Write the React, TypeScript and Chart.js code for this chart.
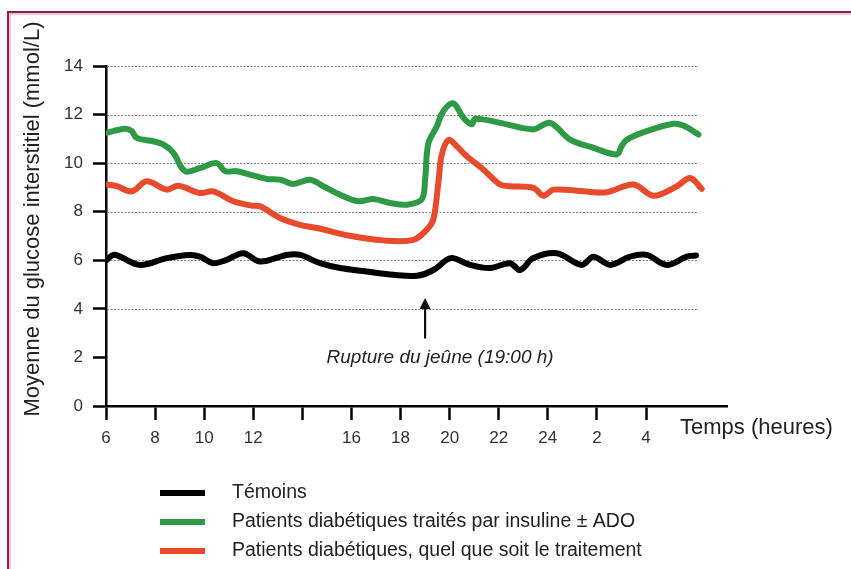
import React, { useEffect, useRef } from 'react';
import { Chart, registerables } from 'chart.js';

Chart.register(...registerables);

// ---- Data (hours since 0h of day 1; 24+ = next day) ----
const temoinsHours = [6.03, 6.3, 6.57, 7.39, 8.47, 9.42, 9.83, 10.37, 10.92, 11.59, 12.28, 13.36, 13.91, 14.72, 15.54, 16.62, 17.71, 18.66, 19.34, 19.88, 20.15, 20.83, 21.65, 22.46, 22.87, 23.41, 24.37, 25.38, 25.86, 26.54, 27.35, 28.03, 28.85, 29.66, 30.04];
const temoinsValues = [6.02, 6.22, 6.15, 5.81, 6.09, 6.22, 6.15, 5.88, 6.02, 6.29, 5.95, 6.22, 6.22, 5.88, 5.68, 5.54, 5.4, 5.36, 5.6, 6.02, 6.09, 5.81, 5.68, 5.88, 5.6, 6.09, 6.29, 5.81, 6.15, 5.81, 6.15, 6.22, 5.81, 6.15, 6.2];

const insulineHours = [6.03, 6.77, 7.05, 7.25, 7.93, 8.33, 8.74, 9.22, 9.83, 10.51, 10.85, 11.33, 11.87, 12.55, 13.09, 13.63, 14.31, 14.85, 15.54, 16.28, 16.89, 17.57, 18.25, 18.86, 19.0, 19.13, 19.48, 19.74, 20.15, 20.56, 20.9, 21.04, 22.06, 23.41, 24.09, 24.91, 25.86, 26.81, 27.01, 27.22, 28.03, 29.12, 29.52, 30.14];
const insulineValues = [11.25, 11.42, 11.32, 11.04, 10.9, 10.77, 10.43, 9.67, 9.8, 10.0, 9.67, 9.67, 9.53, 9.35, 9.32, 9.14, 9.32, 9.05, 8.7, 8.43, 8.52, 8.36, 8.29, 8.5, 9.32, 10.8, 11.52, 12.14, 12.46, 11.87, 11.6, 11.83, 11.66, 11.39, 11.66, 10.97, 10.63, 10.36, 10.7, 10.97, 11.32, 11.62, 11.55, 11.18];

const tousHours = [6.03, 6.44, 7.05, 7.66, 8.47, 8.95, 9.83, 10.37, 11.19, 11.94, 12.28, 13.09, 13.91, 14.59, 15.94, 17.3, 18.52, 19.07, 19.34, 19.54, 19.68, 19.95, 20.29, 20.7, 21.37, 22.06, 22.46, 23.41, 23.82, 24.23, 25.45, 26.4, 27.49, 28.3, 29.26, 29.8, 30.27];
const tousValues = [9.12, 9.05, 8.84, 9.25, 8.91, 9.07, 8.77, 8.84, 8.43, 8.25, 8.22, 7.74, 7.46, 7.33, 7.01, 6.82, 6.84, 7.26, 7.7, 9.2, 10.35, 10.95, 10.7, 10.28, 9.74, 9.12, 9.05, 8.98, 8.66, 8.91, 8.84, 8.8, 9.12, 8.66, 9.05, 9.39, 8.94];

const xTickValues = [6, 8, 10, 12, 14, 16, 18, 20, 22, 24, 26, 28];
const xTickLabels = ['6', '8', '10', '12', '', '16', '18', '20', '22', '24', '2', '4'];
const yTickValues = [0, 2, 4, 6, 8, 10, 12, 14];
const gridValues = [4, 6, 8, 10, 12, 14];

const seriesLabels = [
  'Témoins',
  'Patients diabétiques traités par insuline ± ADO',
  'Patients diabétiques, quel que soit le traitement',
];
const seriesColors = ['#000000', '#2f9a45', '#e84a2c'];

const X_MIN = 6;
const X_MAX = 31.3;
const GRID_END = 30.1;
const FAST_BREAK = 19.0;

const FONT = '"Liberation Sans", Arial, Helvetica, sans-serif';

function toPoints(xs: number[], ys: number[]) {
  return xs.map((x, i) => ({ x, y: ys[i] }));
}

const overlayPlugin = {
  id: 'overlay',
  beforeDatasetsDraw(chart: any) {
    const { ctx, chartArea, scales } = chart;
    const xs = scales.x;
    const ys = scales.y;
    ctx.save();
    ctx.strokeStyle = '#808080';
    ctx.lineWidth = 1.2;
    ctx.setLineDash([2, 1.5]);
    const xEnd = xs.getPixelForValue(GRID_END);
    gridValues.forEach((v) => {
      const y = Math.round(ys.getPixelForValue(v)) + 0.5;
      ctx.beginPath();
      ctx.moveTo(chartArea.left + 1, y);
      ctx.lineTo(xEnd, y);
      ctx.stroke();
    });
    ctx.restore();
  },
  afterDraw(chart: any) {
    const { ctx, scales, chartArea } = chart;
    const xs = scales.x;
    const ys = scales.y;
    ctx.save();
    // Y title
    ctx.fillStyle = '#222';
    ctx.font = `22px ${FONT}`;
    ctx.textAlign = 'center';
    ctx.textBaseline = 'middle';
    ctx.translate(33, (ys.getPixelForValue(14) + ys.getPixelForValue(0)) / 2 - 17);
    ctx.rotate(-Math.PI / 2);
    ctx.fillText('Moyenne du glucose interstitiel (mmol/L)', 0, 0);
    ctx.restore();

    ctx.save();
    // X title
    ctx.fillStyle = '#222';
    ctx.font = `22px ${FONT}`;
    ctx.textAlign = 'left';
    ctx.textBaseline = 'alphabetic';
    ctx.fillText('Temps (heures)', chartArea.right - 47, chartArea.bottom + 28);

    // arrow
    const ax = xs.getPixelForValue(FAST_BREAK);
    const yTip = ys.getPixelForValue(4.45);
    const yBot = ys.getPixelForValue(2.78);
    ctx.strokeStyle = '#111';
    ctx.fillStyle = '#111';
    ctx.lineWidth = 2.2;
    ctx.beginPath();
    ctx.moveTo(ax, yBot);
    ctx.lineTo(ax, yTip + 8);
    ctx.stroke();
    ctx.beginPath();
    ctx.moveTo(ax, yTip);
    ctx.lineTo(ax - 5.5, yTip + 11);
    ctx.lineTo(ax + 5.5, yTip + 11);
    ctx.closePath();
    ctx.fill();

    // annotation
    ctx.font = `italic 19px ${FONT}`;
    ctx.textAlign = 'center';
    ctx.textBaseline = 'middle';
    ctx.fillStyle = '#222';
    ctx.fillText('Rupture du jeûne (19:00 h)', ax + 15, ys.getPixelForValue(1.97));

    // legend
    const legendY = [493, 522, 551];
    ctx.font = `19.5px ${FONT}`;
    ctx.textAlign = 'left';
    seriesLabels.forEach((lab, i) => {
      ctx.strokeStyle = seriesColors[i];
      ctx.lineWidth = 6;
      ctx.setLineDash([]);
      ctx.beginPath();
      ctx.moveTo(160, legendY[i]);
      ctx.lineTo(205, legendY[i]);
      ctx.stroke();
      ctx.fillStyle = '#222';
      ctx.fillText(lab, 232, legendY[i]);
    });
    ctx.restore();
  },
};

export default function App() {
  const ref = useRef<HTMLCanvasElement | null>(null);

  useEffect(() => {
    if (!ref.current) return;
    const datasets = [
      { xs: temoinsHours, ys: temoinsValues },
      { xs: insulineHours, ys: insulineValues },
      { xs: tousHours, ys: tousValues },
    ].map((s, i) => ({
      label: seriesLabels[i],
      data: toPoints(s.xs, s.ys),
      borderColor: seriesColors[i],
      backgroundColor: seriesColors[i],
      borderWidth: 6,
      pointRadius: 0,
      tension: 0.35,
      fill: false,
      borderCapStyle: 'round' as const,
      borderJoinStyle: 'round' as const,
    }));

    const chart = new Chart(ref.current, {
      type: 'line',
      data: { datasets },
      options: {
        animation: false,
        responsive: false,
        devicePixelRatio: 1,
        layout: { padding: { left: 0, top: 66, right: 124, bottom: 113 } },
        plugins: { legend: { display: false }, tooltip: { enabled: false } },
        scales: {
          x: {
            type: 'linear',
            min: X_MIN,
            max: X_MAX,
            afterFit: (s: any) => { s.height = 50; },
            afterBuildTicks: (s: any) => { s.ticks = xTickValues.map((v) => ({ value: v })); },
            ticks: {
              autoSkip: false,
              maxRotation: 0,
              padding: 8,
              color: '#333',
              font: { family: FONT, size: 17 },
              callback: (v: any) => {
                const idx = xTickValues.indexOf(Number(v));
                return idx >= 0 ? xTickLabels[idx] : '';
              },
            },
            grid: { drawOnChartArea: false, drawTicks: true, tickLength: 14, tickColor: '#000', tickWidth: 2.5 },
            border: { display: true, color: '#000', width: 2.5 },
          },
          y: {
            type: 'linear',
            min: 0,
            max: 14,
            afterFit: (s: any) => { s.width = 106; },
            afterBuildTicks: (s: any) => { s.ticks = yTickValues.map((v) => ({ value: v })); },
            ticks: {
              padding: 10,
              color: '#333',
              font: { family: FONT, size: 17 },
            },
            grid: { drawOnChartArea: false, drawTicks: true, tickLength: 13, tickColor: '#000', tickWidth: 2.5 },
            border: { display: true, color: '#000', width: 2.5 },
          },
        },
      },
      plugins: [overlayPlugin],
    } as any);
    return () => chart.destroy();
  }, []);

  return (
    <div style={{ position: 'fixed', left: 0, top: 0, width: 851, height: 569, background: '#fff', overflow: 'hidden' }}>
      <div style={{ position: 'absolute', left: 7, top: 11, right: -10, bottom: -10, borderTop: '2px solid #8e1d50', borderLeft: '2px solid #8e1d50' }} />
      <div style={{ position: 'absolute', left: 9, top: 13, right: -10, bottom: -10, borderTop: '2px solid #f6c3d6', borderLeft: '2px solid #f6c3d6' }} />
      <canvas ref={ref} width={851} height={569} style={{ position: 'absolute', left: 0, top: 0, width: 851, height: 569 }} />
    </div>
  );
}
